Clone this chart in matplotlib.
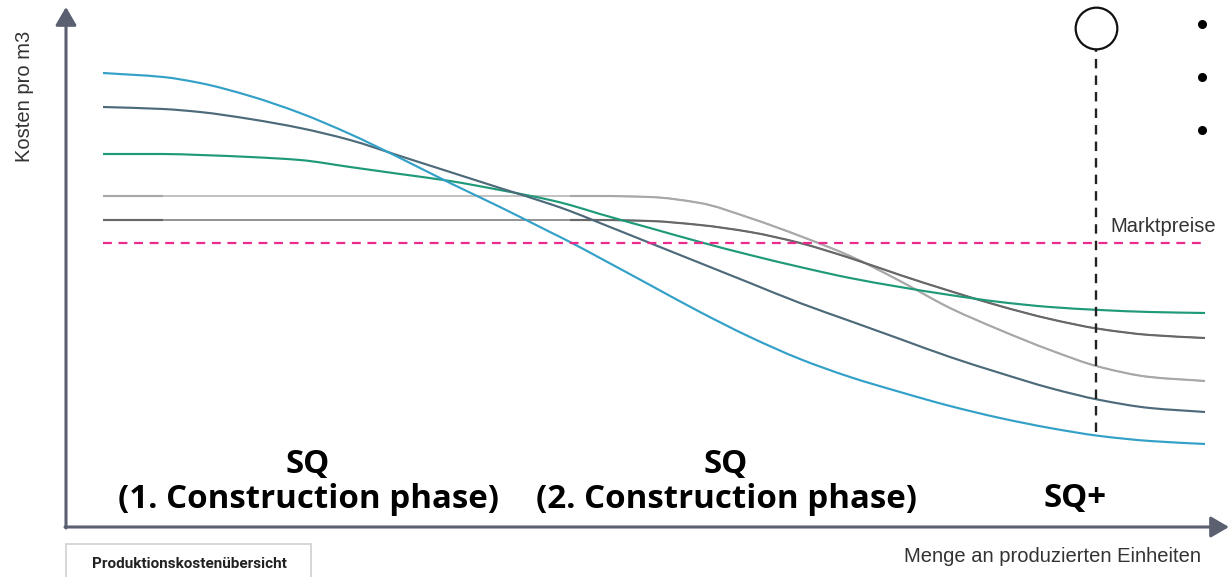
import numpy as np
import matplotlib.pyplot as plt
from matplotlib.patches import Rectangle, PathPatch
from matplotlib.path import Path

# Produced units (shared sampling positions for all cost curves)
units = [37, 97, 134, 184, 234, 284, 334, 384, 434, 484, 504, 534, 584,
         634, 684, 734, 784, 834, 884, 934, 984, 1034, 1084, 1139]

# Cost per m3 for the five production scenarios
cost_blue = [454, 450, 444, 431, 414, 393, 369, 344, 320, 295, 285, 269, 242,
             215, 190, 168, 150, 135, 121, 109, 99, 91, 86, 83]
cost_slate = [420, 418, 415, 408, 399, 387, 371, 355, 339, 323, 316, 304, 284,
              264, 244, 224, 206, 188, 170, 154, 139, 127, 119, 115]
cost_green = [373, 373, 372, 370, 367, 360, 353, 346, 337, 327, 322, 313, 299,
              285, 272, 260, 249, 240, 232, 225, 220, 217, 215, 214]
cost_lightgray = [331, 331, 331, 331, 331, 331, 331, 331, 331, 331, 331, 331, 330,
                  324, 309, 291, 271, 246, 219, 197, 177, 160, 150, 146]
cost_darkgray = [307, 307, 307, 307, 307, 307, 307, 307, 307, 307, 307, 307, 306,
                 302, 295, 284, 269, 252, 236, 221, 208, 198, 192, 189]

market_price = 284
sq_plus_units = 1030
sq_plus_range = [95, 479]

phase_labels = ["SQ\n(1. Construction phase)", "SQ\n(2. Construction phase)", "SQ+"]
phase_x = [242, 660, 1009]
phase_y = [45, 45, 28]

bullet_y = [503, 450, 397]

COLORS = {
    'blue': '#33a0c8',
    'slate': '#4d6a7b',
    'green': '#1f9a78',
    'lightgray': '#a8a8a8',
    'darkgray': '#67686a',
    'pink': '#ea2a8c',
    'axis': '#5a6070',
}


def smooth_path(x, y, start=0, stop=None):
    """Monotone cubic (Hermite) curve through the points, as Bezier segments."""
    x = np.asarray(x, float)
    y = np.asarray(y, float)
    h = np.diff(x)
    d = np.diff(y) / h
    m = np.zeros_like(y)
    m[0], m[-1] = d[0], d[-1]
    for i in range(1, len(x) - 1):
        if d[i - 1] * d[i] > 0:
            w1 = 2 * h[i] + h[i - 1]
            w2 = h[i] + 2 * h[i - 1]
            m[i] = (w1 + w2) / (w1 / d[i - 1] + w2 / d[i])
    stop = len(x) - 1 if stop is None else stop
    verts = [(x[start], y[start])]
    codes = [Path.MOVETO]
    for i in range(start, stop):
        verts += [(x[i] + h[i] / 3, y[i] + m[i] * h[i] / 3),
                  (x[i + 1] - h[i] / 3, y[i + 1] - m[i + 1] * h[i] / 3),
                  (x[i + 1], y[i + 1])]
        codes += [Path.CURVE4] * 3
    return Path(verts, codes)


def draw_curve(ax, x, y, color, lw, start=0, stop=None, z=3):
    patch = PathPatch(smooth_path(x, y, start, stop), facecolor='none',
                      edgecolor=color, lw=lw, capstyle='butt', zorder=z)
    ax.add_patch(patch)


def main():
    plt.rcParams['font.family'] = ['Liberation Sans', 'DejaVu Sans']

    fig = plt.figure(figsize=(12.29, 5.77), dpi=100)
    ax = fig.add_axes([0, 0, 1, 1])
    ax.set_xlim(-66, 1163)
    ax.set_ylim(-50, 527)
    ax.axis('off')

    # Gray scenarios: thin bridge on the plateau, regular weight elsewhere
    for cost, col in [(cost_lightgray, COLORS['lightgray']), (cost_darkgray, COLORS['darkgray'])]:
        draw_curve(ax, units, cost, col, 1.0, z=2)
        draw_curve(ax, units, cost, col, 1.55, 0, 1, z=2)
        draw_curve(ax, units, cost, col, 1.55, 10, z=2)

    draw_curve(ax, units, cost_green, COLORS['green'], 1.55)
    draw_curve(ax, units, cost_slate, COLORS['slate'], 1.55)
    draw_curve(ax, units, cost_blue, COLORS['blue'], 1.55)

    # Market price line
    ax.plot([units[0], units[-1]], [market_price, market_price], color=COLORS['pink'],
            lw=1.6, dashes=(4, 3), zorder=4)
    ax.text(1044, market_price + 16, "Marktpreise", fontsize=14.5,
            color='#333333', ha='left', va='center')

    # SQ+ marker with dashed drop line
    ax.plot([sq_plus_units, sq_plus_units], sq_plus_range, color='#222222',
            lw=1.7, dashes=(4, 3), zorder=4)
    ax.plot(sq_plus_units, sq_plus_range[1] + 20, 'o', ms=30, mfc='white',
            mec='#111111', mew=1.6, zorder=5)

    ax.plot([1136] * len(bullet_y), bullet_y, 'o', ms=5.5, color='black')

    # Axes with arrow heads
    arrow = dict(arrowstyle='-|>,head_length=0.55,head_width=0.32',
                 color=COLORS['axis'], lw=2.2, shrinkA=0, shrinkB=0,
                 mutation_scale=20)
    ax.annotate('', xy=(0, 520), xytext=(0, -1), arrowprops=arrow, annotation_clip=False)
    ax.annotate('', xy=(1163, 0), xytext=(-1, 0), arrowprops=arrow, annotation_clip=False)

    ax.text(-41, 431, "Kosten pro m3", rotation=90, fontsize=14.5,
            color='#333333', ha='center', va='center')
    ax.text(987, -29, "Menge an produzierten Einheiten", fontsize=14.5,
            color='#333333', ha='center', va='center')

    # Phase labels
    for label, px, py in zip(phase_labels, phase_x, phase_y):
        ax.text(px, py, label, fontsize=23.8, fontweight='bold', ha='center',
                va='center', linespacing=1.12, color='black',
                family=['Open Sans', 'DejaVu Sans'])

    # Tab box at the bottom
    ax.add_patch(Rectangle((0, -70), 245, 53, facecolor='white',
                           edgecolor='#cfcfcf', lw=1.2, clip_on=False))
    ax.text(123, -37, "Produktionskostenübersicht", fontsize=11,
            fontweight='bold', ha='center', va='center', color='#222222',
            family=['Roboto', 'DejaVu Sans'])

    fig.savefig('out.png', dpi=100)


if __name__ == "__main__":
    main()
